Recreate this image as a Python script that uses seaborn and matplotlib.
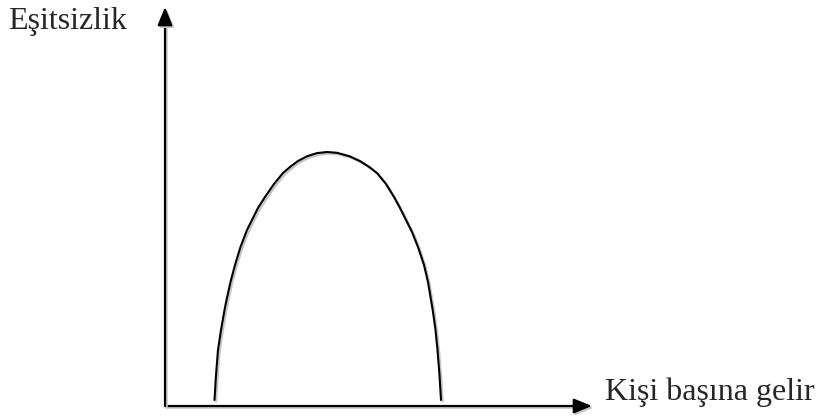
"""Inverted-U (Kuznets) curve: Eşitsizlik vs. Kişi başına gelir."""

import matplotlib

matplotlib.use("Agg")
import matplotlib.patheffects as pe
import matplotlib.pyplot as plt
import seaborn as sns

# curve (x = income, y = inequality, arbitrary units)
income = [49.5, 51, 53, 56, 59.5, 61.5, 65.5, 70, 75.5, 82, 87, 93, 100, 109,
          118, 125, 133, 142, 152, 162,
          172, 185, 195, 204, 212, 221, 229, 235, 241, 247, 253, 259, 263,
          266, 268, 270.5, 272.5, 274.5, 276]
inequality = [6, 31, 56, 76, 96, 106, 124, 141, 159, 176, 186, 198, 209, 222,
              233, 239, 245, 249.7, 252.9, 254,
              253.2, 249.6, 244.9, 239.2, 233, 222, 209, 198, 186, 174, 159,
              141, 124, 106, 94, 76, 56, 31, 6]

x_label = "Kişi başına gelir"
y_label = "Eşitsizlik"
x_max, y_max = 427, 399

sns.set_theme(style="white")
plt.rcParams["font.family"] = ["Liberation Serif", "DejaVu Serif"]

fig = plt.figure(figsize=(8.24, 4.16), dpi=100)
ax = fig.add_axes([165 / 824, 10 / 416, 427 / 824, 399 / 416])
shadow = [pe.SimpleLineShadow(offset=(1.2, -1.2), shadow_color="#c4c4c4", alpha=1),
          pe.Normal()]

sns.lineplot(x=income, y=inequality, sort=False, estimator=None, ax=ax,
             color="black", linewidth=1.5)
ax.lines[0].set_path_effects(shadow)
ax.lines[0].set_solid_joinstyle("round")

ax.set_xlim(0, x_max)
ax.set_ylim(0, y_max)
ax.set_xticks([])
ax.set_yticks([])
for s in ax.spines.values():
    s.set_visible(False)

# axes with arrowheads
arrow = dict(arrowstyle="-|>,head_length=1.1,head_width=0.45", color="black",
             linewidth=1.6, shrinkA=0, shrinkB=0, mutation_scale=10,
             path_effects=shadow)
ax.annotate("", xy=(1, 0), xytext=(0, 0), xycoords="axes fraction",
            arrowprops=arrow, annotation_clip=False)
ax.annotate("", xy=(0, 1), xytext=(0, 0), xycoords="axes fraction",
            arrowprops=arrow, annotation_clip=False)

fig.text(8 / 824, 1 - 29 / 416, y_label, fontsize=23, va="baseline", ha="left")
fig.text(605 / 824, 1 - 400 / 416, x_label, fontsize=23, va="baseline", ha="left")

fig.savefig("out.png", dpi=100, facecolor="white")
